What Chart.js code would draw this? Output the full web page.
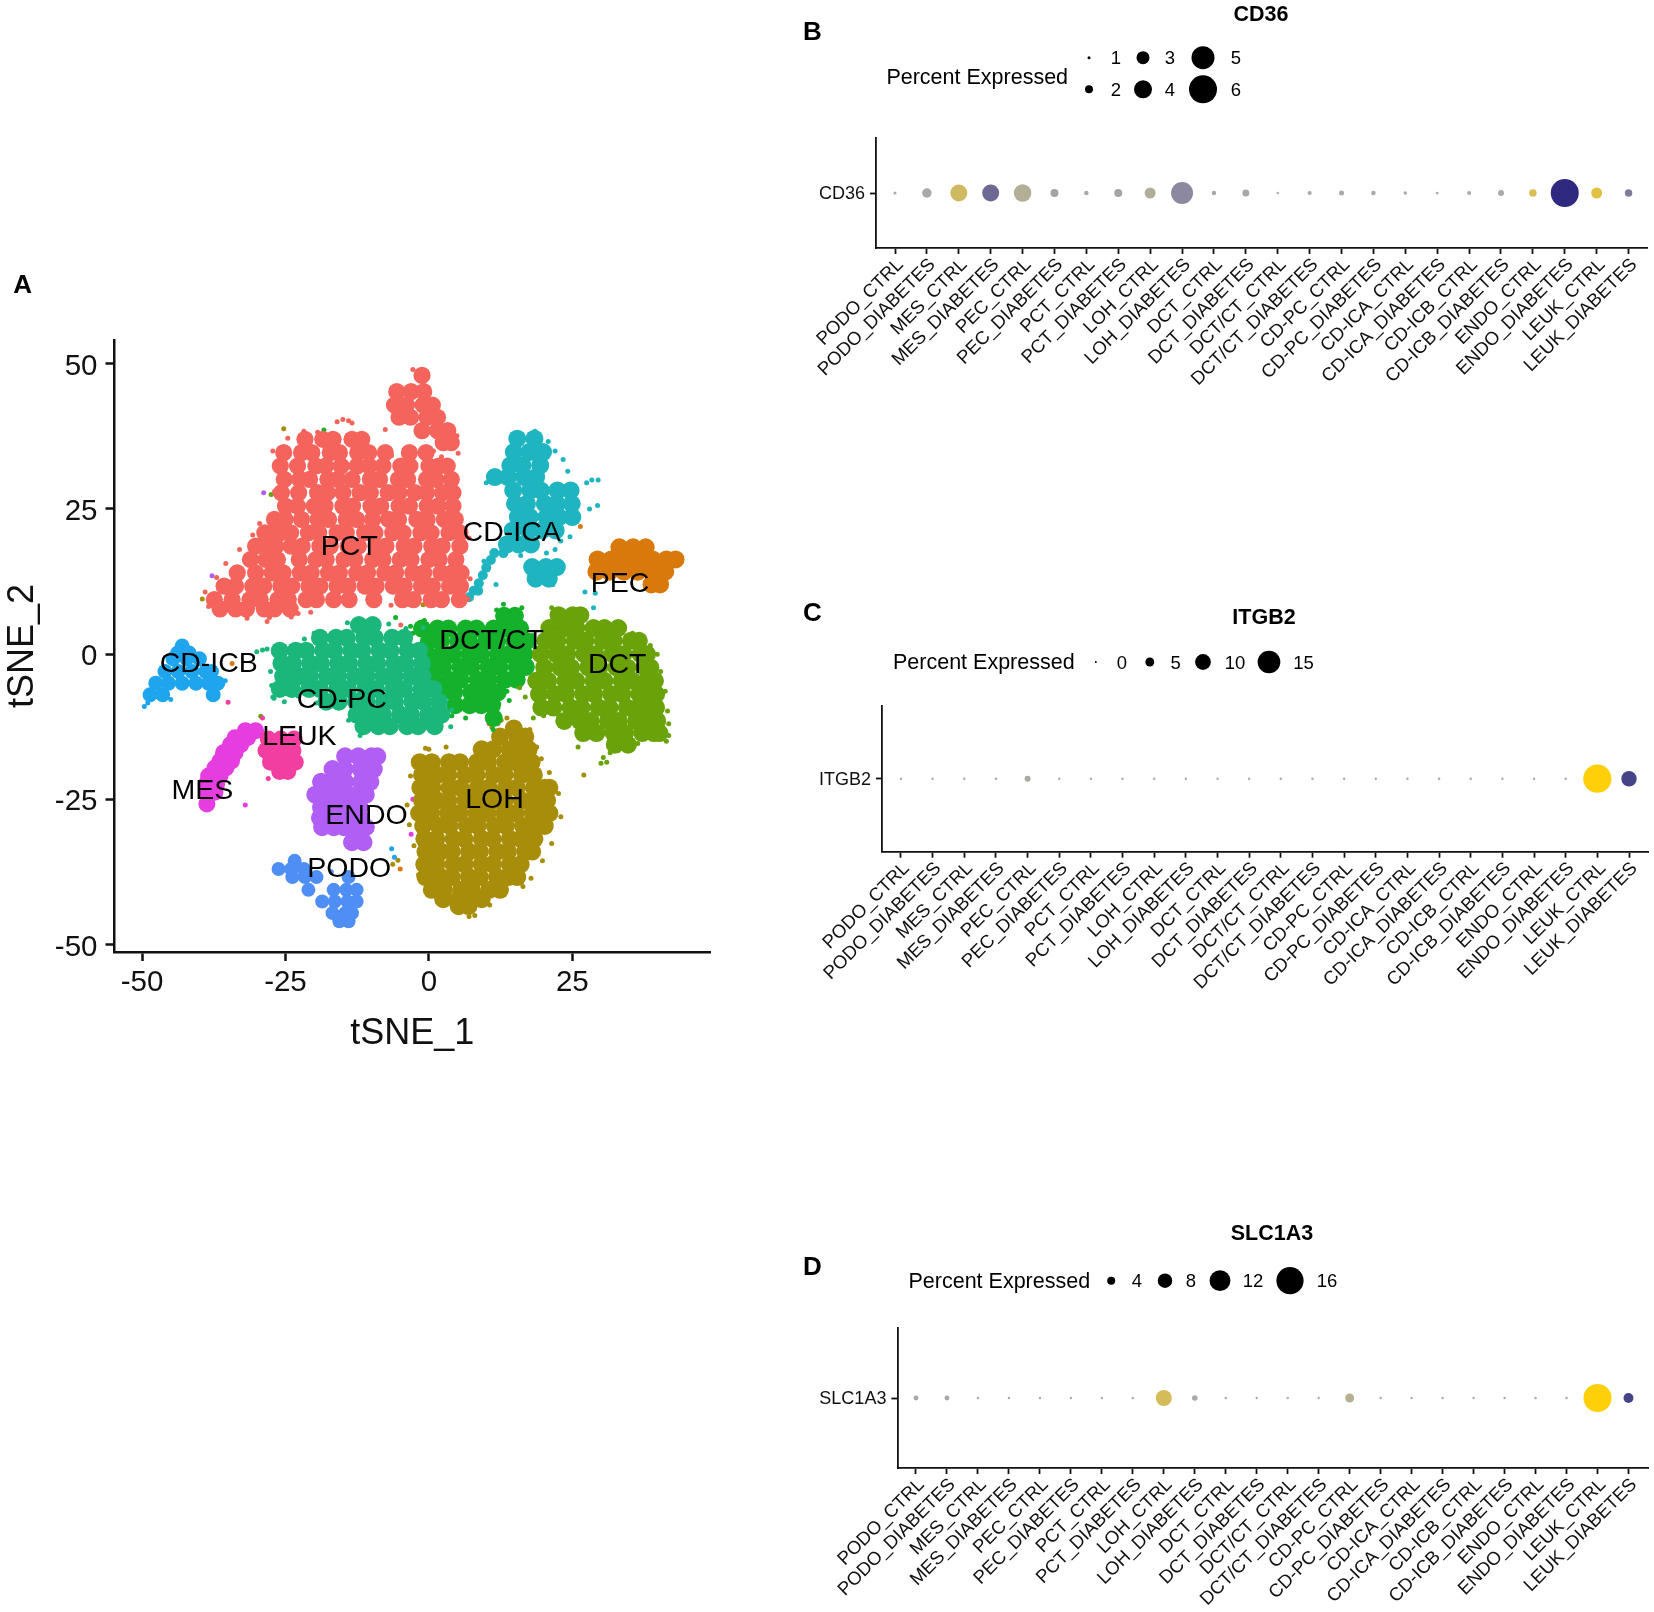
<!DOCTYPE html>
<html>
<head>
<meta charset="utf-8">
<title>tSNE and dot plots</title>
<script src="https://cdn.jsdelivr.net/npm/chart.js@4/dist/chart.umd.min.js"></script>
<style>
  body { margin: 0; background: #fff; width: 1654px; height: 1612px; position: relative; overflow: hidden; }
  canvas { position: absolute; }
</style>
</head>
<body>
<canvas id="panelA" width="760" height="800" style="left:0;top:260px"></canvas>
<canvas id="panelB" width="864" height="420" style="left:790px;top:0"></canvas>
<canvas id="panelC" width="864" height="420" style="left:790px;top:590px"></canvas>
<canvas id="panelD" width="864" height="402" style="left:790px;top:1210px"></canvas>
<script>
// tSNE clusters: one y per row, then the x values of that row
const pctY = [48,45.2,42.9,40.8,38.5,36.4,37,34.7,32.4,30.1,27.8,25.5,23.2,20.9,18.6,16.3,14,11.7,9.4,7.8];
const pctX = [
  [-1.2],
  [-5.6,-3.1,-0.9],
  [-6,-3.9,-1,0.6],
  [-5.2,-3.2,-0.3,1.5],
  [-1.2,1.5,3.3],
  [2.5,3.9],
  [-21.6,-18.5,-16.7,-13.4,-11.7],
  [-25.3,-22.2,-20.4,-17.2,-15.6,-12.4,-10.5,-7.6,-3.4,-0.5],
  [-25.9,-22.9,-19.7,-18,-15.3,-12.5,-10.4,-8,-4.9,-3.3,0,1.7,3.2],
  [-25.2,-22.5,-20.8,-17.6,-15.9,-13.4,-10.2,-8.6,-5.3,-3.7,-0.4,1.2,3.9],
  [-25.7,-22.7,-19.4,-17.7,-15,-12,-10.2,-7.1,-5.2,-2.4,-0.4,2.4,4.2],
  [-25,-22.9,-20,-18.1,-15,-13.3,-10.1,-8.4,-5.2,-3.4,-0.3,1.6,4.2],
  [-26.9,-25.1,-22.2,-19.3,-17.5,-14.4,-12.6,-9.8,-7,-5.3,-2.1,-0.3,2.7,4.6],
  [-28.6,-27.2,-25.8,-24.1,-21,-19.2,-16,-14.4,-11.2,-9.4,-6.3,-4.5,-1.4,0.4,3.5,5.4],
  [-30.2,-28.2,-26.7,-24,-22.1,-19,-17.2,-14.1,-12.3,-9.2,-7.5,-4.3,-2.6,0.5,2.3,5.4],
  [-31.1,-28.4,-26.4,-22.6,-19.7,-17.9,-14.8,-12.9,-9.8,-8,-5,-3.1,0,1.8,4.7],
  [-33.4,-30.2,-27.3,-25.4,-22.4,-20.5,-17.5,-15.6,-12.6,-10.7,-7.7,-5.8,-2.8,-0.9,2.1,4,5.6],
  [-35.7,-33.7,-30.7,-28.8,-25.8,-23.9,-20.9,-19,-16,-14.1,-11.1,-9.2,-6.2,-4.3,-1.3,0.6,3.6,5.5],
  [-37.4,-34.3,-31.2,-29.4,-26.3,-24.5,-21.4,-19.6,-16.6,-13.9,-9.6,-4.6,-2.7,0.4,2.2,5.3],
  [-36.4,-33.7,-31.8,-28.7,-26.9,-24.2]
];
const pctEdgeX = [-16,-15,-14,-13.4,-7.6,-8.2,-29.5,-30.7,-33,-35.4,-37,-39,-38.4,-27.2,-26.9,-19.4,-24.6,-21.8,-6.5,0.8,2.2,7,7.2,6.8,-2.8,-28.2,-27.8,-31.7,-24,-22.8,-20.6,4.9,5.1,-10,-6.6];
const pctEdgeY = [40,40.4,40.2,39.8,38.7,34,22.5,20.5,18,15.6,13.2,10.7,8.2,35,28,38.2,37.2,38.4,34.2,35,34,20,13,9.5,49,5.6,6.3,6.2,6.4,7,7.2,37.6,34.6,10,8.4];
const icaY = [37.1,34.8,32.5,30.5,28.2,25.9,23.6,21.3,18.9,15,13];
const icaX = [
  [15.4,18.4],
  [14.8,17.5,19.9],
  [14.2,16.3,19.4],
  [11.5,13.8,16.6,18.7],
  [14.7,17.7,19.5,22.4,24.7],
  [15,17.1,20.2,22.3,24.9],
  [15.5,17.6,20.5,22.7,25],
  [14.6,17.3,19.7,22.1],
  [13.6,15.6,17.8],
  [18,20.4,22.3],
  [18.6,20.9]
];
const icaTailY = [17.4,16.2,14.9,13.6,12.2,10.9,9.8];
const icaTailX = [
  [11.4,13],
  [10.8],
  [10],
  [9.4],
  [8.7],
  [7.8,8.6],
  [7]
];
const icaEdgeX = [18.5,20.8,22,23.4,24.2,27.5,28.4,29.5,22,23,24.6,10,9.6,11.7,16,20.5,21.6,28,29.4];
const icaEdgeY = [38.4,36.6,35,33.5,31.5,29.5,30,30,18,19.5,20.2,29.5,16,12,17,17.4,12,25,25.6];
const pecY = [18.4,16.3,14.2,12];
const pecX = [
  [33.2,35.6,37.8],
  [29.4,31.8,34.2,36.6,39,41.4,43],
  [29.2,31.5,34,36.4,38.8,41.2],
  [38.8,40.3]
];
const cdpcY = [5,2.8,0.6,-1.6,-3.8,-6,-8.2,-10.4,-12.4];
const cdpcX = [
  [-12.2,-9.8],
  [-19,-16.2,-14.3,-11.3,-9.4,-6.4,-4.3],
  [-26,-23.2,-21.4,-18.4,-16.5,-13.5,-11.6,-8.6,-6.7,-3.7,-1.7],
  [-25.7,-23.7,-20.7,-18.8,-15.8,-13.9,-10.9,-9,-6,-4.1,-1.2],
  [-25.4,-22.6,-20.7,-17.7,-15.8,-12.8,-10.9,-7.9,-6,-3,-1.1],
  [-26,-23.9,-20.9,-19,-16,-14.1,-11.1,-9.2,-6.2,-4.3,-1.3,0.8],
  [-17.9,-15.7,-12.7,-10.8,-7.8,-5.9,-2.9,-1,1.8],
  [-12.6,-9.9,-8,-5,-3.1,-0.1,2.2],
  [-11.4,-8.8,-6.8,-3.8,-1.9,1]
];
const cdpcEdgeX = [-30,-29,-28.2,-27.6,-27.4,-27.2,-20,-21.7,-14.2,-7,-4,-1,-14,-12,-27,-25.2,-22.8,3.8,4,-19.6];
const cdpcEdgeY = [0.4,0.7,0.9,-3,-5.4,-7.4,3.6,2.6,5.4,5.2,4.4,4.6,-11.4,-14,-7.6,-8.2,-7.2,-12.5,-9.6,-8.4];
const dctctY = [6.6,4.4,2.2,0,-2.2,-4.4,-6.6,-8.8,-11];
const dctctX = [
  [13.1,15],
  [-1.2,1.5,3.4,6.4,8.3,11.3,13.2,15.9],
  [0,2.1,5.1,7,10,11.9,14.9,17],
  [-0.3,2.2,4.1,7.1,9,12,13.9,16.6],
  [0.4,2.5,5.5,7.4,10.4,12.3,15.3,16.9],
  [0.8,3.6,5.5,8.5,10.4,13.3,15.3],
  [2.2,4.4,7.4,9.3,12],
  [4.6,7.1,9.1,11],
  [11.3]
];
const dctctEdgeX = [11.8,13,16.2,-3.2,-2.8,18.6,18,19.2,19.6,12,13.6,14,11.2,4,6.4,10.4,-0.8,12.2];
const dctctEdgeY = [7.6,8.6,8,4.8,3.6,1,3.2,-3.6,-4.6,-8,-6.4,-8,-13,-10.6,-11,-11.4,5.8,-8.6];
const dctY = [6.7,4.5,2.3,0,-2.3,-4.6,-6.9,-9.2,-11.5,-13.6,-15.6];
const dctX = [
  [22.6,25.1,26.4],
  [21,23.8,25.7,28.7,30.6,33],
  [20.3,22.4,25.4,27.3,30.3,32.2,35.2,36.6],
  [19.5,22.2,24.1,27.1,29,32,33.9,36.9,38],
  [20.1,22.9,24.8,27.8,29.7,32.7,34.6,37.6,38.6],
  [18.7,20.8,23.8,25.7,28.7,30.6,33.6,35.5,38,39.4],
  [19.2,22,23.9,26.9,28.8,31.8,33.7,36.7,38.4,39.6],
  [19.6,21.7,24.7,26.6,29.6,31.5,34.5,36.4,38.6,39.6],
  [23.6,26.3,28.2,31.2,33.1,36.1,38,39.8],
  [26.9,29.2,32.2,34.2,37.2,39.2,40.2],
  [32.4,34.7]
];
const dctEdgeX = [34,35.5,37,38.6,39.8,40.4,41.2,41.6,41.8,41.8,41.4,30.4,30,31.6,26,22.6,20,16.8,15.8,36.4,33,21.4,18.2];
const dctEdgeY = [4.4,3.6,3,1.5,0,-3,-6.4,-9.8,-12,-14,-15,-17.8,-18.8,-17,-16,-11,-10.6,-7.4,-5.8,-15.4,-16.6,8,-11];
const icbY = [1.4,0.2,-0.8,-3,-5,-7];
const icbX = [
  [-43],
  [-43.8,-41.8],
  [-44.6,-42.2,-40],
  [-46,-43.7,-41.3,-38.9,-37.9],
  [-47.6,-45.4,-43,-40.6,-38.4,-36.8],
  [-48.6,-46.4,-37.6]
];
const leukY = [-14.6,-16.6,-18.6,-20.2];
const leukX = [
  [-28,-25.8,-23.5],
  [-28.4,-26,-23.7],
  [-27.6,-25.2,-23.3],
  [-26,-24.6]
];
const mesY = [-13.2,-14.4,-15.6,-17,-18.4,-19.6,-21,-22.4,-23.8,-25.8];
const mesX = [
  [-32,-30.2],
  [-33.8,-31.6],
  [-34.6,-32.8],
  [-35.8,-33.8],
  [-36.4,-34.4],
  [-37.3,-35.4],
  [-38.4,-36.4],
  [-38.8,-37],
  [-38.6,-37.3],
  [-38.7]
];
const endoY = [-17.6,-19.8,-22,-24.2,-26.4,-28.2,-29.8,-32.4];
const endoX = [
  [-14.6,-12.3,-10,-9],
  [-16.8,-14.7,-11.9,-9.6],
  [-18.8,-16.4,-14.6,-11.8,-10.2],
  [-19.8,-17.4,-15,-12.6,-11],
  [-18.8,-16.7,-14,-12.1],
  [-19,-16.4,-14.4,-12],
  [-18.6,-16.6,-14.8,-12.6,-11],
  [-13.4,-11.4]
];
const podoY = [-35.6,-37,-38.4,-40.6,-42.6,-44.6,-46];
const podoX = [
  [-23.4],
  [-26.2,-24,-21.8],
  [-23.8,-21.6,-19.6,-14],
  [-21,-16.6,-14.4,-12.6],
  [-18.6,-16.4,-14.2,-12.6],
  [-16.8,-14.6,-13.4],
  [-15.6,-14]
];
const lohY = [-12.8,-14.2,-16.4,-18.6,-20.8,-23,-25.2,-27.4,-29.6,-31.8,-34,-36.2,-38.4,-40.6,-42.2,-43.4];
const lohX = [
  [14.8],
  [12.4,15.4,16.8],
  [9.2,11.2,14.1,16,17.4],
  [-1.6,0.5,3.5,5.4,8.4,10.3,13.3,15.2,17.9],
  [-1.2,1.5,3.4,6.4,8.3,11.3,13.2,16.2,18.3],
  [-1.5,0.6,3.6,5.5,8.5,10.4,13.4,15.3,18.3,20.2,21],
  [-1.2,1.5,3.4,6.4,8.3,11.3,13.2,16.2,18.1,20.6],
  [-1.7,0.4,3.4,5.3,8.3,10.2,13.2,15.1,18.1,20,21],
  [-1,1.7,3.6,6.6,8.5,11.5,13.4,16.4,18.3,20.2],
  [-0.8,1.3,4.3,6.2,9.2,11.1,14.1,16,18.4],
  [-0.6,2.1,4,7,8.9,11.9,13.8,16.8,18],
  [-0.8,1.3,4.3,6.2,9.2,11.1,14.1,16],
  [-0.6,2.1,4,7,8.9,11.9,13.8,15.4],
  [0.5,2.6,5.6,7.5,10.5,12.4],
  [2.5,5.2,7,9.2],
  [5.2,6.9]
];
const lohEdgeX = [11,12.6,13.6,17.6,18.8,19.6,21,22.6,23,21.4,19.8,17.8,16.4,-3.2,-3.8,-3.4,-2.6,-1.8,0,3,8,10.6,7,-0.6];
const lohEdgeY = [-12.6,-11.4,-11,-13,-16,-18,-20.4,-24,-28,-32.6,-35.6,-38.6,-40,-21,-26,-29.4,-33,-38,-16.4,-16,-45,-43.2,-45.2,-16.2];

// single cells lying away from the clusters
const strayX = [-28.8,-27.5,-14.7,-37.8,-39.5,-25.3,-18.3,26.4,27.2,31,27,-6.5,-5.4,-5,4,-29.3,-29,-34.3,-35,-2.8,-3.1,-1,-3.5,-5.8,-4.9,10.5,12,-49.6,-49,-45,-35.5,-6,-6.3,29,28.7,-32,-28,-17,-13.7];
const strayY = [27.8,27.5,27.5,13.5,9.5,38.8,38.6,22,10.7,-18.6,-20.8,-33.5,-35.5,-37,-6.4,-10.7,-11,-1.6,-8.3,-25,-31,8.5,8.6,6.3,5,-12,-12,-9,-8.4,-7.8,-4.6,-35,-36.2,10.5,8,-26,-21.4,-37.5,-46.4];
const strayColor = ['#b15ef5','#6aa20a','#14b12a','#b15ef5','#a88d0b','#a88d0b','#14b12a','#d9790b','#1fb5c0','#6aa20a','#a88d0b','#1ea5ee','#a88d0b','#d9790b','#f4635c','#6aa20a','#f23ea0','#d9790b','#f23ea0','#e53de0','#e53de0','#a88d0b','#f4635c','#14b12a','#f4635c','#f4635c','#f4635c','#1ea5ee','#1ea5ee','#1ea5ee','#1ea5ee','#1ea5ee','#a88d0b','#1fb5c0','#1fb5c0','#e53de0','#f23ea0','#4f8ef5','#d9790b'];

const clusterLabels = ['PCT','CD-ICA','PEC','DCT/CT','DCT','CD-ICB','CD-PC','LEUK','MES','ENDO','LOH','PODO'];
const labelX = [-13.7,14.6,33.5,11.1,33,-38.2,-15,-22.4,-39.3,-10.7,11.6,-13.7];
const labelY = [18.6,21.1,12.3,2.5,-1.6,-1.4,-7.7,-14,-23.3,-27.7,-24.9,-36.7];
const tsneTicksX = [-50,-25,0,25];
const tsneTicksY = [-50,-25,0,25,50];

// dot plots
const categories = ['PODO_CTRL','PODO_DIABETES','MES_CTRL','MES_DIABETES','PEC_CTRL','PEC_DIABETES','PCT_CTRL','PCT_DIABETES','LOH_CTRL','LOH_DIABETES','DCT_CTRL','DCT_DIABETES','DCT/CT_CTRL','DCT/CT_DIABETES','CD-PC_CTRL','CD-PC_DIABETES','CD-ICA_CTRL','CD-ICA_DIABETES','CD-ICB_CTRL','CD-ICB_DIABETES','ENDO_CTRL','ENDO_DIABETES','LEUK_CTRL','LEUK_DIABETES'];
const cd36Pct = [1,2.3,3.8,3.8,3.9,2,1.3,2,2.6,4.8,1.3,1.8,0.9,1.2,1.4,1.3,1.1,0.95,1.2,1.6,1.9,6,2.6,1.9];
const cd36Avg = [0,0,0.45,-0.5,0.12,-0.05,0,-0.03,0.1,-0.25,0,0,0,0,0,0,0,0,0,0,0.55,-1,0.65,-0.35];
const itgb2Pct = [0.3,0.3,0.3,0.3,2.9,0.3,0.3,0.3,0.3,0.3,0.3,0.3,0.3,0.3,0.3,0.3,0.3,0.3,0.3,0.3,0.3,0.3,19,9.7];
const itgb2Avg = [0,0,0,0,0.05,0,0,0,0,0,0,0,0,0,0,0,0,0,0,0,0,0,1,-0.8];
const slc1a3Pct = [2.1,2.1,0.5,0.5,0.5,0.5,0.5,0.5,9,2.5,0.5,0.5,0.5,0.5,4.6,0.5,0.5,0.5,0.5,0.5,0.5,0.5,16.5,5.2];
const slc1a3Avg = [0.03,0.02,0,0,0,0,0,0,0.5,0,0,0,0,0,0.15,0,0,0,0,0,0,0,1,-0.8];
const legendB = [1,2,3,4,5,6];
const legendC = [0,5,10,15];
const legendD = [4,8,12,16];

const FONT = '"Liberation Sans", Arial, sans-serif';

function rowsToPoints(ys, xs) {
  var pts = [];
  for (var i = 0; i < ys.length; i++) {
    for (var j = 0; j < xs[i].length; j++) {
      pts.push({ x: xs[i][j], y: ys[i] });
    }
  }
  return pts;
}

function clusterSet(name, color, ys, xs, r) {
  return {
    label: name,
    data: rowsToPoints(ys, xs),
    backgroundColor: color,
    borderWidth: 0,
    pointRadius: r,
    pointHoverRadius: r,
    clip: false
  };
}

function cellSet(name, color, xs, ys) {
  return {
    label: name,
    data: xs.map(function (v, i) { return { x: v, y: ys[i] }; }),
    backgroundColor: color,
    borderWidth: 0,
    pointRadius: 2.5,
    pointHoverRadius: 2.5,
    clip: false
  };
}

// same look as the ggplot axes: line and ticks only
function axisBase(tickLen, lineW, font, pad) {
  return {
    type: 'linear',
    border: { display: true, color: '#111', width: lineW },
    grid: { drawOnChartArea: false, drawTicks: true, tickLength: tickLen, tickColor: '#111', tickWidth: lineW },
    ticks: { color: '#111', font: { family: FONT, size: font }, padding: pad, autoSkip: false, maxRotation: 0 }
  };
}

const labelsPlugin = {
  id: 'clusterNames',
  afterDatasetsDraw(chart) {
    var ctx = chart.ctx;
    ctx.save();
    ctx.font = '28.5px ' + FONT;
    ctx.fillStyle = '#000';
    ctx.textAlign = 'center';
    ctx.textBaseline = 'middle';
    clusterLabels.forEach(function (t, i) {
      ctx.fillText(t, chart.scales.x.getPixelForValue(labelX[i]) - 1, chart.scales.y.getPixelForValue(labelY[i]) + 1.5);
    });
    ctx.restore();
  }
};

function letterPlugin(letter, x, y) {
  return {
    id: 'panelLetter',
    afterDraw(chart) {
      var ctx = chart.ctx;
      ctx.save();
      ctx.font = 'bold 26px ' + FONT;
      ctx.fillStyle = '#000';
      ctx.textAlign = 'center';
      ctx.textBaseline = 'middle';
      ctx.fillText(letter, x, y);
      ctx.restore();
    }
  };
}

var axisAx = axisBase(9, 2.5, 29.5, 4);
var axisAy = axisBase(9, 2.5, 29.5, 8);
axisAy.ticks.labelOffset = 3;

new Chart(document.getElementById('panelA'), {
  type: 'scatter',
  data: {
    datasets: [
      clusterSet('PCT', '#f4635c', pctY, pctX, 8.6),
      cellSet('PCT cells', '#f4635c', pctEdgeX, pctEdgeY),
      clusterSet('CD-ICA', '#1fb5c0', icaY, icaX, 9),
      clusterSet('CD-ICA tail', '#1fb5c0', icaTailY, icaTailX, 5),
      cellSet('CD-ICA cells', '#1fb5c0', icaEdgeX, icaEdgeY),
      clusterSet('PEC', '#d9790b', pecY, pecX, 9),
      clusterSet('CD-PC', '#1ab67a', cdpcY, cdpcX, 9),
      cellSet('CD-PC cells', '#1ab67a', cdpcEdgeX, cdpcEdgeY),
      clusterSet('DCT', '#6aa20a', dctY, dctX, 9),
      cellSet('DCT cells', '#6aa20a', dctEdgeX, dctEdgeY),
      clusterSet('DCT/CT', '#14b12a', dctctY, dctctX, 9),
      cellSet('DCT/CT cells', '#14b12a', dctctEdgeX, dctctEdgeY),
      clusterSet('CD-ICB', '#1ea5ee', icbY, icbX, 7.5),
      clusterSet('LEUK', '#f23ea0', leukY, leukX, 8.5),
      clusterSet('MES', '#e53de0', mesY, mesX, 8.5),
      clusterSet('ENDO', '#b15ef5', endoY, endoX, 9),
      clusterSet('PODO', '#4f8ef5', podoY, podoX, 7),
      clusterSet('LOH', '#a88d0b', lohY, lohX, 9),
      cellSet('LOH cells', '#a88d0b', lohEdgeX, lohEdgeY),
      cellSet('stray', strayColor, strayX, strayY)
    ]
  },
  options: {
    responsive: false,
    animation: false,
    layout: { autoPadding: false, padding: { left: 0, top: 80, right: 50, bottom: 0 } },
    plugins: { legend: { display: false }, tooltip: { enabled: false } },
    scales: {
      x: Object.assign(axisAx, {
        min: -54.8,
        max: 49,
        afterBuildTicks(s) { s.ticks = tsneTicksX.map(function (v) { return { value: v }; }); },
        afterFit(s) { s.height = 108; },
        title: { display: true, text: 'tSNE_1', color: '#111', font: { family: FONT, size: 36 }, padding: { top: 0, bottom: 4 } }
      }),
      y: Object.assign(axisAy, {
        min: -51.3,
        max: 54.1,
        afterBuildTicks(s) { s.ticks = tsneTicksY.map(function (v) { return { value: v }; }); },
        afterFit(s) { s.width = 114.5; },
        title: { display: true, text: 'tSNE_2', color: '#111', font: { family: FONT, size: 36 }, padding: { top: 1, bottom: 0 } }
      })
    }
  },
  plugins: [labelsPlugin, letterPlugin('A', 22.6, 25.5)]
});

function mixColor(a, b, t) {
  var c = [];
  for (var i = 0; i < 3; i++) c.push(Math.round(a[i] + (b[i] - a[i]) * t));
  return 'rgb(' + c.join(',') + ')';
}

function exprColor(v) {
  if (v < 0) return mixColor([169, 169, 169], [47, 42, 127], -v);
  return mixColor([169, 169, 169], [255, 207, 10], v);
}

function dotPanel(cfg) {
  var radius = function (p) { return cfg.a + cfg.b * p; };
  var legendDraw = {
    id: 'dotLegend',
    afterDraw(chart) {
      var ctx = chart.ctx;
      ctx.save();
      ctx.fillStyle = '#000';
      ctx.textBaseline = 'middle';
      ctx.textAlign = 'center';
      ctx.font = 'bold 21.5px ' + FONT;
      ctx.fillText(cfg.gene, cfg.titleX, cfg.titleY + 1.5);
      ctx.textAlign = 'left';
      ctx.font = '21.5px ' + FONT;
      ctx.fillText('Percent Expressed', cfg.legendTextX, cfg.legendTextY + 1.5);
      ctx.textAlign = 'center';
      ctx.font = '18.5px ' + FONT;
      cfg.legendValues.forEach(function (v, i) {
        var pos = cfg.legendPos[i];
        ctx.beginPath();
        ctx.arc(pos[0], pos[2], radius(v), 0, Math.PI * 2);
        ctx.fill();
        ctx.fillText(String(v), pos[1], pos[2] + 1.5);
      });
      ctx.restore();
    }
  };
  return new Chart(document.getElementById(cfg.canvas), {
    type: 'bubble',
    data: {
      datasets: [{
        label: cfg.gene,
        data: cfg.pct.map(function (p, i) { return { x: i, y: 1, r: radius(p) }; }),
        backgroundColor: cfg.avg.map(exprColor),
        borderWidth: 0,
        clip: false
      }]
    },
    options: {
      responsive: false,
      animation: false,
      layout: { autoPadding: false, padding: { left: 0, top: cfg.top, right: cfg.right, bottom: 0 } },
      plugins: { legend: { display: false }, tooltip: { enabled: false } },
      scales: {
        x: (function () {
          var a = axisBase(6, 1.8, 18.6, 0);
          a.ticks.minRotation = 45;
          a.ticks.maxRotation = 45;
          a.ticks.labelOffset = 5.5;
          a.ticks.callback = function (v) { return categories[v]; };
          a.min = cfg.xMin;
          a.max = cfg.xMax;
          a.afterBuildTicks = function (s) { s.ticks = categories.map(function (c, i) { return { value: i }; }); };
          a.afterFit = function (s) {
            s.height = cfg.xHeight;
            s.paddingLeft = 0;
            s.paddingRight = 0;
          };
          return a;
        })(),
        y: (function () {
          var a = axisBase(6, 1.8, 18, 5);
          a.min = 0;
          a.max = 2;
          a.ticks.labelOffset = 1.5;
          a.ticks.callback = function () { return cfg.gene; };
          a.afterBuildTicks = function (s) { s.ticks = [{ value: 1 }]; };
          a.afterFit = function (s) { s.width = cfg.yWidth; };
          return a;
        })()
      }
    },
    plugins: [legendDraw, letterPlugin(cfg.letter, 22.5, cfg.letterY + 1)]
  });
}

dotPanel({
  canvas: 'panelB', letter: 'B', letterY: 31.7, gene: 'CD36', pct: cd36Pct, avg: cd36Avg,
  a: -1, b: 2.5, top: 138, right: 6.3, yWidth: 86, xHeight: 172, xMin: -0.596, xMax: 23.6,
  titleX: 471, titleY: 14, legendTextX: 96.4, legendTextY: 76.7,
  legendValues: legendB,
  legendPos: [[299, 326, 57.7], [299, 326, 89.3], [353, 380, 57.7], [353, 380, 89.3], [413, 446, 57.7], [413, 446, 89.3]]
});

dotPanel({
  canvas: 'panelC', letter: 'C', letterY: 22.7, gene: 'ITGB2', pct: itgb2Pct, avg: itgb2Avg,
  a: 1, b: 0.69, top: 115.7, right: 6, yWidth: 92, xHeight: 158.3, xMin: -0.6, xMax: 23.6,
  titleX: 474, titleY: 26.7, legendTextX: 103, legendTextY: 72,
  legendValues: legendC,
  legendPos: [[305.8, 332, 72], [359.8, 385.7, 72], [413, 445, 72], [479, 513.5, 72]]
});

dotPanel({
  canvas: 'panelD', letter: 'D', letterY: 56.7, gene: 'SLC1A3', pct: slc1a3Pct, avg: slc1a3Avg,
  a: 0.8, b: 0.8, top: 118, right: 6, yWidth: 107.4, xHeight: 144, xMin: -0.6, xMax: 23.63,
  titleX: 482, titleY: 23, legendTextX: 118.5, legendTextY: 70.7,
  legendValues: legendD,
  legendPos: [[321.2, 347, 70.7], [375, 401, 70.7], [430, 463, 70.7], [500, 537, 70.7]]
});
</script>
</body>
</html>
